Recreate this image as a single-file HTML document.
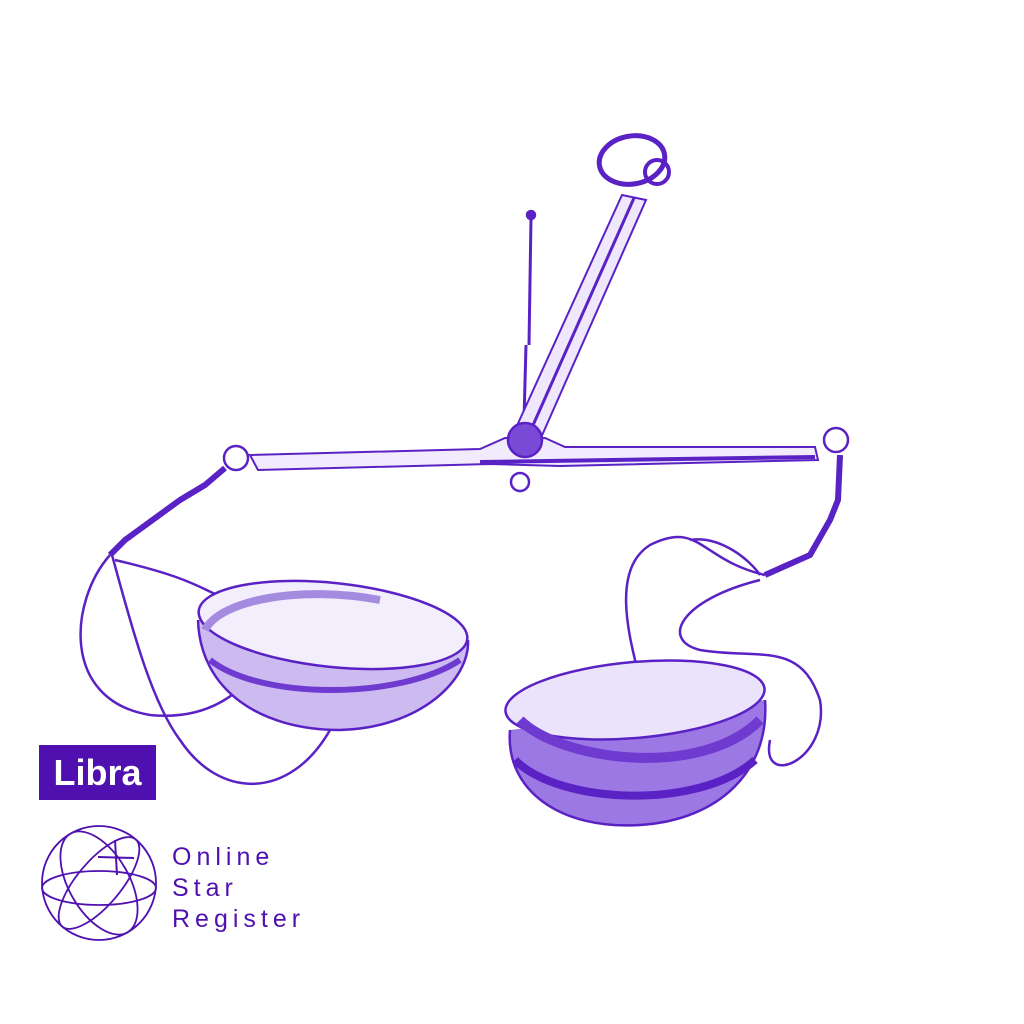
<!DOCTYPE html>
<html><head><style>
html,body{margin:0;padding:0;background:#fff;width:1024px;height:1024px;overflow:hidden}
svg{position:absolute;left:0;top:0}
.lib{position:absolute;left:39px;top:745px;width:117px;height:55px;background:#5010b0;color:#fff;font:bold 36px "Liberation Sans",sans-serif;text-align:center;line-height:55px}
.osr{position:absolute;left:172px;top:842px;color:#5010b0;font:25px/31px "Liberation Sans",sans-serif;letter-spacing:5px}
</style></head><body>
<svg width="1024" height="1024" viewBox="0 0 1024 1024" fill="none" stroke="#5a22c4" stroke-width="2.5">
<!-- beam -->
<path d="M250 455 L480 449 L505 438 L545 438 L565 447 L815 447 L818 460 L560 466 L490 464 L258 470 Z" fill="#f1ebfd" stroke-width="2"/>
<path d="M480 462 L815 457" stroke-width="4"/>
<circle cx="236" cy="458" r="12"/><circle cx="836" cy="440" r="12"/>
<circle cx="520" cy="482" r="9"/>
<!-- needle -->
<path d="M531 218 L529 345 M526 345 L524 420" stroke-width="3"/>
<circle cx="531" cy="215" r="4" fill="#5a22c4"/>
<!-- arm -->
<path d="M515 430 L622 195 L646 200 L540 440 Z" fill="#efe8fc" stroke-width="2"/>
<path d="M530 432 L634 198" stroke-width="3"/>
<ellipse cx="632" cy="160" rx="33" ry="24" stroke-width="5" transform="rotate(-10 632 160)"/>
<circle cx="657" cy="172" r="12" stroke-width="4"/>
<circle cx="525" cy="440" r="17" fill="#7a4ad6"/>
<!-- left chain & strings -->
<path d="M225 468 L205 485 L180 500 L125 540 L110 555" stroke-width="6"/>
<path d="M110 555 C70 600 60 700 150 715 C200 720 250 700 270 640" />
<path d="M112 555 C130 620 150 700 180 740 C220 800 290 800 330 730"/>
<path d="M115 560 C200 580 200 590 230 600"/>
<!-- left pan -->
<path d="M198 620 C200 690 260 730 340 730 C420 728 470 680 468 640" fill="#cdbaf0"/>
<ellipse cx="333" cy="625" rx="135" ry="42" fill="#f3eefc" transform="rotate(6 333 625)"/>
<path d="M205 630 C220 600 300 585 380 600" stroke="#a58be0" stroke-width="8"/>
<path d="M210 660 C260 700 400 700 460 660" stroke="#6e3ad0" stroke-width="6"/>
<!-- right chain & strings -->
<path d="M840 455 L838 500 L830 520 L810 555 L765 575" stroke-width="6"/>
<path d="M765 575 C700 560 700 520 650 545 C610 570 630 640 640 680"/>
<path d="M760 580 C680 600 660 640 700 650 C760 660 800 640 820 700 C830 760 760 790 770 740"/>
<path d="M690 540 C720 535 750 560 760 575"/>
<!-- right pan -->
<path d="M510 730 C505 790 560 830 640 825 C720 820 770 770 765 700" fill="#9c78e4"/>
<ellipse cx="635" cy="700" rx="130" ry="38" fill="#ebe3fb" transform="rotate(-5 635 700)"/>
<path d="M520 720 C560 760 700 780 760 720" stroke="#6e3ad0" stroke-width="10"/>
<path d="M515 760 C560 805 700 810 755 760" stroke="#5a22c4" stroke-width="8"/>
<!-- logo -->
<g stroke="#5010b0" stroke-width="1.8">
<circle cx="99" cy="883" r="57"/>
<ellipse cx="99" cy="888" rx="57" ry="17"/>
<ellipse cx="99" cy="883" rx="57" ry="22" transform="rotate(-50 99 883)"/>
<ellipse cx="99" cy="883" rx="57" ry="30" transform="rotate(60 99 883)"/>
<path d="M115 840 L117 875 M98 857 L134 858" stroke-width="2"/>
</g>
</svg>
<div class="lib">Libra</div>
<div class="osr">Online<br>Star<br>Register</div>
</body></html>
